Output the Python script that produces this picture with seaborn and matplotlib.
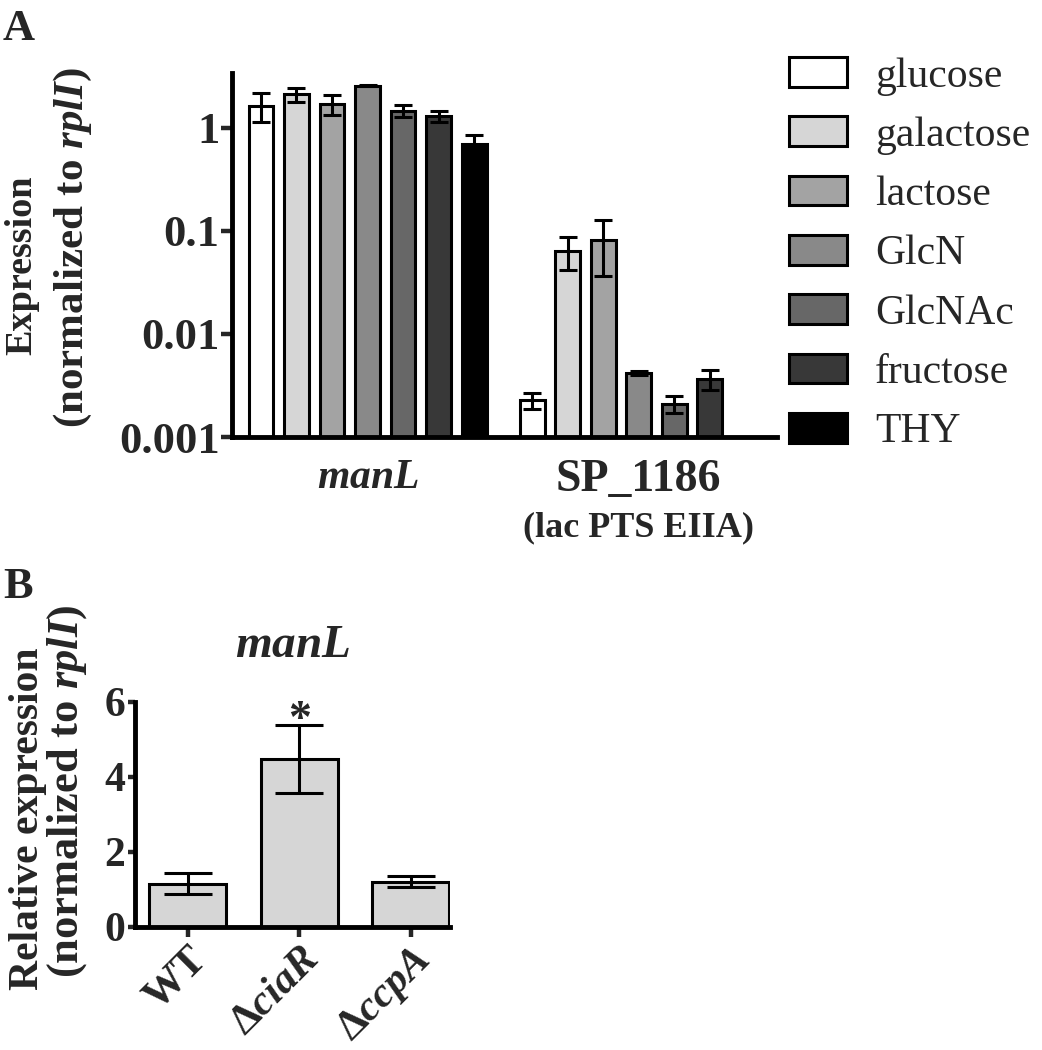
import numpy as np
import pandas as pd
import matplotlib
matplotlib.use("Agg")
import matplotlib.pyplot as plt
import seaborn as sns
from matplotlib.patches import Patch

# ---------------- data ----------------
sugars = ["glucose", "galactose", "lactose", "GlcN", "GlcNAc", "fructose", "THY"]
genes = ["manL", "SP_1186"]
manL_vals = [1.64, 2.12, 1.70, 2.56, 1.46, 1.30, 0.70]
manL_sd = [0.51, 0.33, 0.38, 0.03, 0.19, 0.15, 0.15]
sp1186_vals = [0.00229, 0.0644, 0.0818, 0.0042, 0.0021, 0.00363, np.nan]
sp1186_sd = [0.0004, 0.0225, 0.0455, 0.0002, 0.0004, 0.0008, np.nan]
sugar_colors = ["#ffffff", "#d6d6d6", "#a3a3a3", "#898989", "#676767", "#383838", "#000000"]
ytick_vals_A = [0.001, 0.01, 0.1, 1]
ytick_labels_A = ["0.001", "0.01", "0.1", "1"]

strains = ["WT", "ΔciaR", "ΔccpA"]
strain_labels = ["WT", r"Δ$\mathit{ciaR}$", r"Δ$\mathit{ccpA}$"]
strain_vals = [1.14, 4.47, 1.20]
strain_sd = [0.28, 0.91, 0.15]
ytick_vals_B = [0, 2, 4, 6]

# ---------------- style ----------------
sns.set_theme(style="ticks")
plt.rcParams["font.family"] = ["Liberation Serif", "DejaVu Serif"]
plt.rcParams["font.weight"] = "bold"
plt.rcParams["mathtext.fontset"] = "custom"
plt.rcParams["mathtext.rm"] = "Liberation Serif:bold"
plt.rcParams["mathtext.bf"] = "Liberation Serif:bold"
plt.rcParams["mathtext.it"] = "Liberation Serif:bold:italic"

fig = plt.figure(figsize=(10.42, 10.5), dpi=100)

# ---------------- panel A ----------------
rows = []
for g, vals, sds in [("manL", manL_vals, manL_sd), ("SP_1186", sp1186_vals, sp1186_sd)]:
    for s, v, e in zip(sugars, vals, sds):
        rows.append({"gene": g, "sugar": s, "value": v, "sd": e})
dfA = pd.DataFrame(rows)
dfA_plot = dfA.dropna()

axA = fig.add_axes([0.2226, 0.5838, 0.5231, 0.3467])
axA.set_yscale("log")
sns.barplot(data=dfA_plot, x="gene", y="value", hue="sugar", order=genes,
            hue_order=sugars, palette=sugar_colors, width=0.917, gap=0.3,
            edgecolor="black", linewidth=2.2, errorbar=None,
            legend=False, ax=axA)

for cont, s in zip(axA.containers, sugars):
    sub = dfA_plot[dfA_plot["sugar"] == s].set_index("gene").reindex(genes).dropna()
    for patch, (_, r) in zip(cont.patches, sub.iterrows()):
        xc = patch.get_x() + patch.get_width() / 2
        axA.errorbar(xc, r["value"], yerr=r["sd"], color="black", elinewidth=2.2,
                     capsize=6.5, capthick=2.2, zorder=5)

axA.set_ylim(0.001, 3.4)
axA.set_xlim(-0.5, 1.51)
axA.set_yticks(ytick_vals_A)
axA.set_yticklabels(ytick_labels_A)
axA.yaxis.set_minor_locator(matplotlib.ticker.NullLocator())
axA.tick_params(axis="y", labelsize=32, width=3.2, length=8, direction="out", pad=1)
axA.tick_params(axis="x", length=0, pad=16)
axA.set_xticks([0, 1])
axA.set_xticklabels([r"$\mathit{manL}$", "SP_1186"], fontweight="bold")
xt = axA.get_xticklabels()
xt[0].set_fontsize(30)
xt[1].set_fontsize(33)
axA.text(1, -0.25, "(lac PTS EIIA)", transform=axA.get_xaxis_transform(),
         ha="center", va="center", fontsize=26, fontweight="bold")
axA.set_xlabel("")
axA.set_ylabel("")
for sp in ["top", "right"]:
    axA.spines[sp].set_visible(False)
for sp in ["left", "bottom"]:
    axA.spines[sp].set_linewidth(3.5)
    axA.spines[sp].set_color("black")

fig.text(22 / 1042, 1 - 265 / 1050, "Expression", rotation=90, ha="center", va="center",
         fontsize=27.5, fontweight="bold")
fig.text(73 / 1042, 1 - 248 / 1050, r"(normalized to $\mathit{rplI}$)", rotation=90,
         ha="center", va="center", fontsize=31, fontweight="bold")

handles = [Patch(facecolor=c, edgecolor="black", linewidth=2.2) for c in sugar_colors]
fig.legend(handles, sugars, loc="upper left", bbox_to_anchor=(789 / 1042, 1 - 57 / 1050),
           frameon=False, prop={"family": "Liberation Serif", "weight": "normal", "size": 30},
           handlelength=1.39, handleheight=0.72, handletextpad=0.68, labelspacing=0.50,
           borderpad=0, borderaxespad=0)

fig.text(3 / 1042, 1 - 40 / 1050, "A", fontsize=32, fontweight="bold", ha="left", va="baseline")

# ---------------- panel B ----------------
axB = fig.add_axes([0.1296, 0.1174, 0.3023, 0.2143])
dfB = pd.DataFrame({"strain": strains, "value": strain_vals, "sd": strain_sd})
sns.barplot(data=dfB, x="strain", y="value", order=strains, color="#d6d6d6",
            edgecolor="black", linewidth=2.2, width=0.69, errorbar=None, ax=axB)
for patch, v, e in zip(axB.patches, strain_vals, strain_sd):
    xc = patch.get_x() + patch.get_width() / 2
    axB.errorbar(xc, v, yerr=e, color="black", elinewidth=2.2, capsize=17,
                 capthick=2.2, zorder=5)
star_x = axB.patches[1].get_x() + axB.patches[1].get_width() / 2
axB.text(star_x, 5.18, "*", ha="center", va="baseline", fontsize=33, fontweight="bold")

axB.set_ylim(0, 6)
axB.set_xlim(-0.47, 2.35)
axB.set_yticks(ytick_vals_B)
axB.set_yticklabels([str(v) for v in ytick_vals_B])
axB.tick_params(axis="y", labelsize=30, width=3.2, length=5, pad=2)
axB.tick_params(axis="x", labelsize=30.5, width=3.2, length=7, pad=3)
axB.set_xticks([0, 1, 2])
axB.set_xticklabels(strain_labels, rotation=45, ha="right", rotation_mode="anchor",
                    fontweight="bold")
axB.set_xlabel("")
axB.set_ylabel("")
axB.set_title(r"$\mathit{manL}$", fontsize=34, pad=32)
for sp in ["top", "right"]:
    axB.spines[sp].set_visible(False)
for sp in ["left", "bottom"]:
    axB.spines[sp].set_linewidth(3.5)
    axB.spines[sp].set_color("black")

fig.text(28 / 1042, 1 - 819 / 1050, "Relative expression", rotation=90, ha="center",
         va="center", fontsize=30, fontweight="bold")
fig.text(67 / 1042, 1 - 791 / 1050, r"(normalized to $\mathit{rplI}$)", rotation=90,
         ha="center", va="center", fontsize=32, fontweight="bold")

fig.text(3 / 1042, 1 - 598 / 1050, "B", fontsize=32, fontweight="bold", ha="left", va="baseline")

fig.savefig("out.png", dpi=100, facecolor="white")
